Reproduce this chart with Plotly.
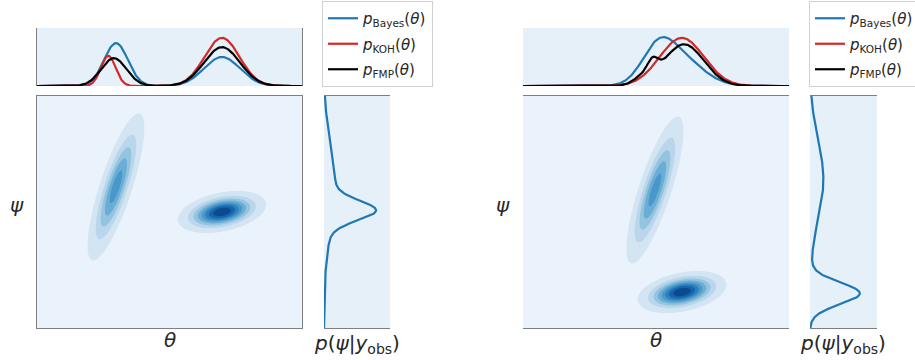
import numpy as np
import plotly.graph_objects as go

# marginal curves over theta: (centre, sd, height) components
left_bayes = [(0.298, 0.045, 0.74), (0.698, 0.068, 0.50)]
left_koh = [(0.269, 0.028, 0.52), (0.698, 0.066, 0.83)]
left_fmp = [(0.290, 0.048, 0.48), (0.698, 0.068, 0.67)]
right_bayes = [(0.505, 0.060, 0.52), (0.590, 0.085, 0.47)]
right_koh = [(0.597, 0.083, 0.83)]
right_fmp = [(0.450, 0.035, 0.12), (0.488, 0.020, 0.22), (0.605, 0.075, 0.72)]

# marginal curves over psi
left_psi = [(0.506, 0.042, 0.64), (0.600, 0.180, 0.17)]
right_psi = [(0.149, 0.047, 0.74), (0.640, 0.170, 0.20)]

# joint density blobs: [tilted blob, flat blob]
blob_theta_left = [0.298, 0.698]
blob_psi_left = [0.608, 0.500]
blob_theta_right = [0.496, 0.598]
blob_psi_right = [0.595, 0.155]
blob_sd_theta = [0.048, 0.068]
blob_sd_psi = [0.142, 0.037]
blob_rho = [0.80, 0.35]
blob_height = [0.60, 1.00]

legend_names = ["<i>p</i><sub>Bayes</sub>(<i>θ</i>)",
                "<i>p</i><sub>KOH</sub>(<i>θ</i>)",
                "<i>p</i><sub>FMP</sub>(<i>θ</i>)"]
line_colors = ["#1f77b4", "#d62728", "#000000"]
band_colors = ["#eaf2fb", "#d3e4f3", "#bad6eb", "#94c4df", "#6aaed6",
               "#4a98c9", "#2e7ebc", "#1764ab", "#0a4a90"]

W, H = 915, 360
grid = np.linspace(0, 1, 401)


def mix(parts, x):
    y = np.zeros_like(x)
    for c, s, h in parts:
        y += h * np.exp(-0.5 * ((x - c) / s) ** 2)
    return y


def joint(thetas, psis):
    tt, pp = np.meshgrid(grid, grid)
    z = np.zeros_like(tt)
    for t0, p0, st, sp, r, h in zip(thetas, psis, blob_sd_theta, blob_sd_psi, blob_rho, blob_height):
        a = (tt - t0) / st
        b = (pp - p0) / sp
        q = (a * a - 2 * r * a * b + b * b) / (1 - r * r)
        z += h * np.exp(-0.5 * q)
    return z


nlev = len(band_colors) - 1
colorscale = [[j / nlev, c] for j, c in enumerate(band_colors)]

fig = go.Figure()

panels = [
    dict(n=0, curves=[left_bayes, left_koh, left_fmp], psi=left_psi,
         th=blob_theta_left, ps=blob_psi_left, legend="legend"),
    dict(n=3, curves=[right_bayes, right_koh, right_fmp], psi=right_psi,
         th=blob_theta_right, ps=blob_psi_right, legend="legend2"),
]

for p in panels:
    n = p["n"]
    ax_main = "" if n == 0 else str(n + 1)
    ax_top = str(n + 2)
    ax_side = str(n + 3)
    fig.add_trace(go.Contour(
        x=grid, y=grid, z=joint(p["th"], p["ps"]),
        contours=dict(start=0.05, end=0.9, size=0.12, coloring="fill", showlines=False),
        line_width=0, colorscale=colorscale, showscale=False, hoverinfo="skip",
        xaxis="x" + ax_main, yaxis="y" + ax_main))
    for parts, name, col in zip(p["curves"], legend_names, line_colors):
        fig.add_trace(go.Scatter(
            x=grid, y=mix(parts, grid), mode="lines", name=name,
            line=dict(color=col, width=2.2), legend=p["legend"],
            legendgroup=p["legend"] + name,
            xaxis="x" + ax_top, yaxis="y" + ax_top))
    fig.add_trace(go.Scatter(
        x=mix(p["psi"], grid), y=grid, mode="lines", showlegend=False,
        line=dict(color="#1f77b4", width=2.2),
        xaxis="x" + ax_side, yaxis="y" + ax_side))

ax_style = dict(showticklabels=False, ticks="", showgrid=False, zeroline=False,
                showline=True, mirror=True, linecolor="#808080", linewidth=1,
                fixedrange=True)

main_y = [1 - 328 / H, 1 - 96 / H]
top_y = [1 - 86 / H, 1 - 28 / H]
cols = [(37, 302, 324, 390), (523, 789, 810, 877)]

layout = {}
for i, (x0, x1, s0, s1) in enumerate(cols):
    n = i * 3
    k_main = "" if n == 0 else str(n + 1)
    layout["xaxis" + k_main] = dict(ax_style, domain=[x0 / W, x1 / W], range=[0, 1])
    layout["yaxis" + k_main] = dict(ax_style, domain=main_y, range=[0, 1])
    layout["xaxis" + str(n + 2)] = dict(ax_style, domain=[x0 / W, x1 / W], range=[0, 1])
    layout["yaxis" + str(n + 2)] = dict(ax_style, domain=top_y, range=[0, 1])
    layout["xaxis" + str(n + 3)] = dict(ax_style, domain=[s0 / W, s1 / W], range=[0, 1])
    layout["yaxis" + str(n + 3)] = dict(ax_style, domain=main_y, range=[0, 1])

fig.update_layout(**layout)

legend_style = dict(bgcolor="white", bordercolor="#d0d0d0", borderwidth=1,
                    font=dict(family="DejaVu Sans", size=15, color="#262626"),
                    xanchor="left", yanchor="top", y=1 - 1 / H, itemwidth=30,
                    tracegroupgap=3)

fig.update_layout(
    width=W, height=H,
    margin=dict(l=0, r=0, t=0, b=0, autoexpand=False),
    paper_bgcolor="white", plot_bgcolor="#e6f0f9",
    font=dict(family="DejaVu Sans", color="#262626"),
    legend=dict(legend_style, x=322 / W),
    legend2=dict(legend_style, x=809 / W),
)

lab = dict(family="DejaVu Sans", size=20, color="#262626")
for off, mid, side in [(0, 170, 357), (486, 656, 843)]:
    for x, y, txt in [(17 + off, 205, "<i>ψ</i>"), (mid, 340, "<i>θ</i>"),
                      (side, 344, "<i>p</i>(<i>ψ</i>|<i>y</i><sub>obs</sub>)")]:
        fig.add_annotation(x=x / W, y=1 - y / H, xref="paper", yref="paper",
                           xanchor="center", yanchor="middle",
                           text=txt, showarrow=False, font=lab)

fig.write_html("out.html", config={"displayModeBar": False},
               post_script="document.body.style.margin='0px';")
